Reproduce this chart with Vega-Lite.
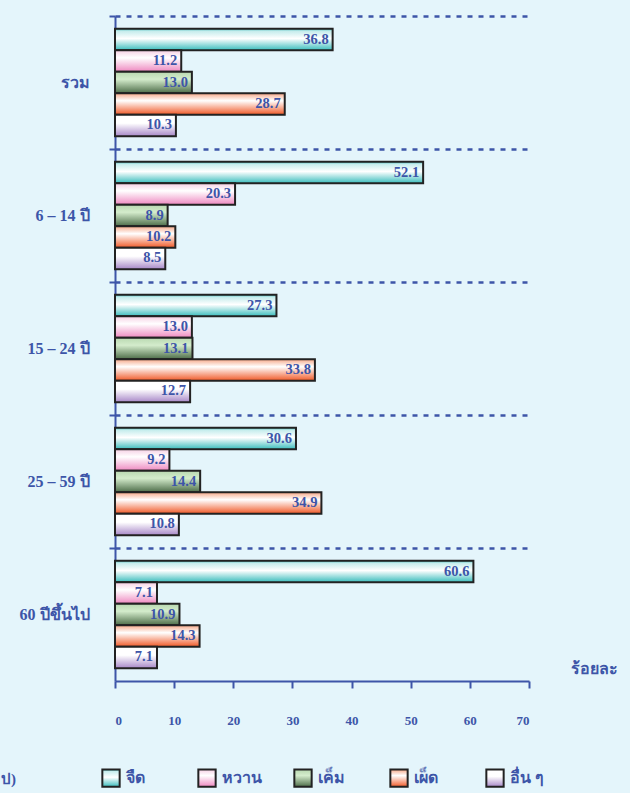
{
  "$schema": "https://vega.github.io/schema/vega-lite/v6.json",
  "width": 414,
  "height": 665,
  "autosize": "none",
  "padding": {"left": 115, "top": 16, "right": 101, "bottom": 112},
  "background": "#e4f5fb",
  "config": {
    "view": {"stroke": null},
    "font": "Liberation Serif"
  },
  "data": {
    "values": [
      {"group": "รวม", "taste": "จืด", "value": 36.8},
      {"group": "รวม", "taste": "หวาน", "value": 11.2},
      {"group": "รวม", "taste": "เค็ม", "value": 13.0},
      {"group": "รวม", "taste": "เผ็ด", "value": 28.7},
      {"group": "รวม", "taste": "อื่น ๆ", "value": 10.3},
      {"group": "6 – 14 ปี", "taste": "จืด", "value": 52.1},
      {"group": "6 – 14 ปี", "taste": "หวาน", "value": 20.3},
      {"group": "6 – 14 ปี", "taste": "เค็ม", "value": 8.9},
      {"group": "6 – 14 ปี", "taste": "เผ็ด", "value": 10.2},
      {"group": "6 – 14 ปี", "taste": "อื่น ๆ", "value": 8.5},
      {"group": "15 – 24 ปี", "taste": "จืด", "value": 27.3},
      {"group": "15 – 24 ปี", "taste": "หวาน", "value": 13.0},
      {"group": "15 – 24 ปี", "taste": "เค็ม", "value": 13.1},
      {"group": "15 – 24 ปี", "taste": "เผ็ด", "value": 33.8},
      {"group": "15 – 24 ปี", "taste": "อื่น ๆ", "value": 12.7},
      {"group": "25 – 59 ปี", "taste": "จืด", "value": 30.6},
      {"group": "25 – 59 ปี", "taste": "หวาน", "value": 9.2},
      {"group": "25 – 59 ปี", "taste": "เค็ม", "value": 14.4},
      {"group": "25 – 59 ปี", "taste": "เผ็ด", "value": 34.9},
      {"group": "25 – 59 ปี", "taste": "อื่น ๆ", "value": 10.8},
      {"group": "60 ปีขึ้นไป", "taste": "จืด", "value": 60.6},
      {"group": "60 ปีขึ้นไป", "taste": "หวาน", "value": 7.1},
      {"group": "60 ปีขึ้นไป", "taste": "เค็ม", "value": 10.9},
      {"group": "60 ปีขึ้นไป", "taste": "เผ็ด", "value": 14.3},
      {"group": "60 ปีขึ้นไป", "taste": "อื่น ๆ", "value": 7.1}
    ]
  },
  "encoding": {
    "y": {
      "field": "group",
      "type": "nominal",
      "sort": ["รวม", "6 – 14 ปี", "15 – 24 ปี", "25 – 59 ปี", "60 ปีขึ้นไป"],
      "scale": {"paddingInner": 0, "paddingOuter": 0},
      "axis": {
        "title": null,
        "bandPosition": 0,
        "domainColor": "#3d55a8",
        "domainWidth": 2,
        "tickColor": "#3d55a8",
        "tickWidth": 2,
        "tickSize": 6,
        "grid": true,
        "gridColor": "#3d55a8",
        "gridDash": [5, 6],
        "gridWidth": 2.5,
        "labelColor": "#3d55a8",
        "labelFont": "Liberation Serif",
        "labelFontWeight": "bold",
        "labelFontSize": 16,
        "labelPadding": 20
      }
    },
    "yOffset": {
      "field": "taste",
      "type": "nominal",
      "sort": ["จืด", "หวาน", "เค็ม", "เผ็ด", "อื่น ๆ"],
      "scale": {"paddingInner": 0, "paddingOuter": 0.6}
    },
    "x": {
      "field": "value",
      "type": "quantitative",
      "scale": {"domain": [0, 70]},
      "axis": {
        "values": [0, 10, 20, 30, 40, 50, 60, 70],
        "grid": false,
        "domainColor": "#3d55a8",
        "domainWidth": 2,
        "tickColor": "#3d55a8",
        "tickWidth": 2,
        "tickSize": 7,
        "labelColor": "#3d55a8",
        "labelFont": "Liberation Serif",
        "labelFontWeight": "bold",
        "labelFontSize": 13,
        "labelPadding": 26,
        "title": "ร้อยละ",
        "titleColor": "#3d55a8",
        "titleFont": "Liberation Serif",
        "titleFontWeight": "bold",
        "titleFontSize": 16,
        "titleX": 479,
        "titleY": -13,
        "titleAlign": "center",
        "titleBaseline": "middle"
      }
    }
  },
  "layer": [
    {
      "mark": {"type": "bar", "stroke": "#222222", "strokeWidth": 2},
      "encoding": {
        "fill": {
          "field": "taste",
          "type": "nominal",
          "sort": ["จืด", "หวาน", "เค็ม", "เผ็ด", "อื่น ๆ"],
          "scale": {
            "domain": ["จืด", "หวาน", "เค็ม", "เผ็ด", "อื่น ๆ"],
            "range": [
              {"expr": "{gradient: 'linear', x1: 0, y1: 0, x2: 0, y2: 1, stops: [{offset: 0, color: '#3fb8b8'}, {offset: 0.1, color: '#c4ecec'}, {offset: 0.45, color: '#ffffff'}, {offset: 1, color: '#38bcbc'}]}"},
              {"expr": "{gradient: 'linear', x1: 0, y1: 0, x2: 0, y2: 1, stops: [{offset: 0, color: '#f6d0e4'}, {offset: 0.35, color: '#ffffff'}, {offset: 1, color: '#ee88c0'}]}"},
              {"expr": "{gradient: 'linear', x1: 0, y1: 0, x2: 0, y2: 1, stops: [{offset: 0, color: '#b8d8b0'}, {offset: 0.35, color: '#d4eccc'}, {offset: 1, color: '#4c6c48'}]}"},
              {"expr": "{gradient: 'linear', x1: 0, y1: 0, x2: 0, y2: 1, stops: [{offset: 0, color: '#f6a888'}, {offset: 0.35, color: '#ffffff'}, {offset: 1, color: '#f05a28'}]}"},
              {"expr": "{gradient: 'linear', x1: 0, y1: 0, x2: 0, y2: 1, stops: [{offset: 0, color: '#ffffff'}, {offset: 0.4, color: '#ffffff'}, {offset: 1, color: '#a888c8'}]}"}
            ]
          },
          "legend": {
            "title": "ป)",
            "titleOrient": "left",
            "titlePadding": 85,
            "titleColor": "#3d55a8",
            "titleFontSize": 15,
            "titleFontWeight": "bold",
            "orient": "none",
            "legendX": -114,
            "legendY": 752,
            "direction": "horizontal",
            "columns": 5,
            "gridAlign": "all",
            "columnPadding": 28,
            "symbolType": "square",
            "symbolSize": 300,
            "symbolStrokeColor": "#222222",
            "symbolStrokeWidth": 2,
            "labelColor": "#3d55a8",
            "labelFontSize": 16,
            "labelFontWeight": "bold",
            "labelOffset": 5
          }
        }
      }
    },
    {
      "mark": {"type": "text", "align": "right", "baseline": "middle", "dx": -4, "font": "Liberation Serif", "fontWeight": "bold", "fontSize": 14.5, "color": "#3d55a8"},
      "encoding": {
        "text": {"field": "value", "type": "quantitative", "format": ".1f"}
      }
    }
  ]
}
